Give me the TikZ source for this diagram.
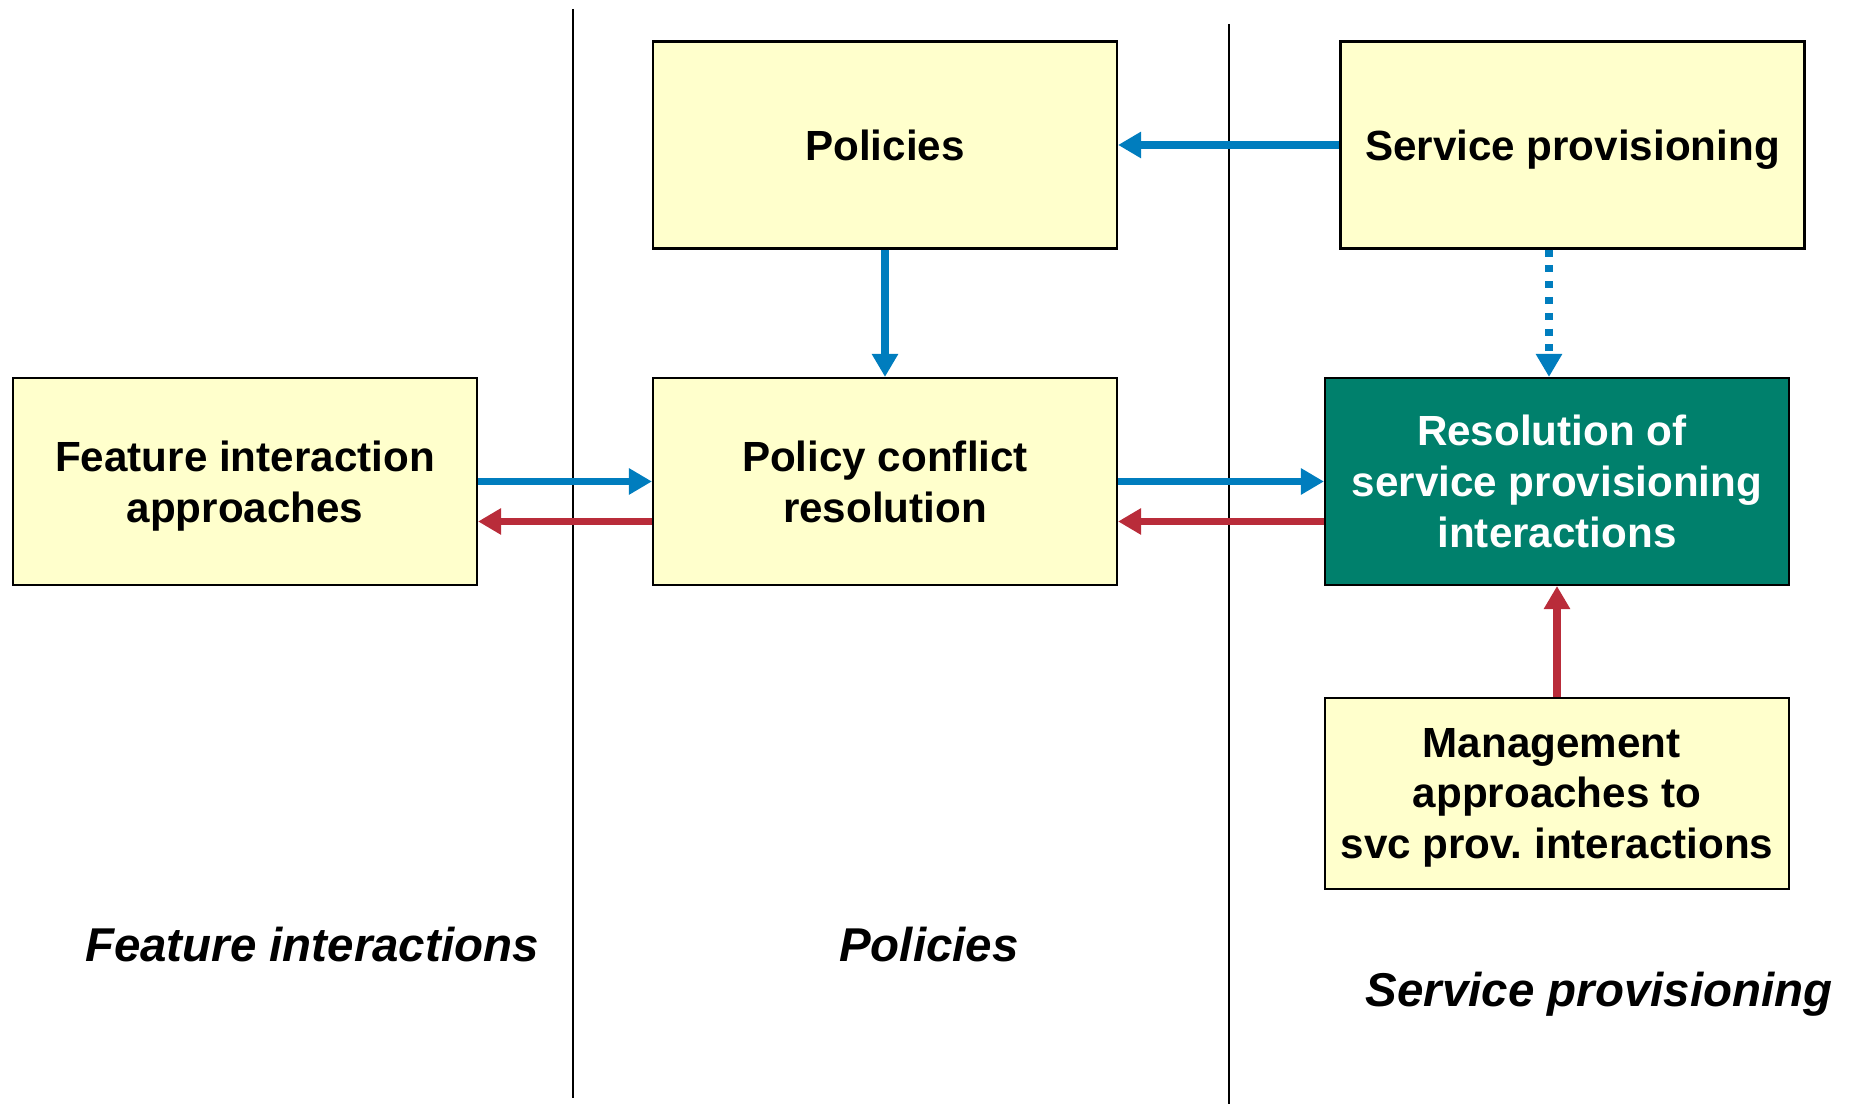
\documentclass[tikz,border=0pt]{standalone}
\usepackage{fontspec}
\setmainfont{Liberation Sans}
\usepackage{tikz}
\usetikzlibrary{arrows.meta}

\definecolor{boxyellow}{RGB}{255,255,204}
\definecolor{arrblue}{RGB}{0,125,190}
\definecolor{arrred}{RGB}{185,44,58}
\definecolor{resgreen}{RGB}{0,128,108}

\begin{document}
\begin{tikzpicture}[x=1cm, y=-1cm,
        box/.style={rectangle, draw, line width=0.6pt, fill=boxyellow, align=center,
            minimum width=4.64cm, minimum height=2.07cm, inner sep=2pt, text depth=0pt,
            font=\fontsize{12}{14.5}\selectfont\bfseries},
        bluearr/.style={draw=arrblue, line width=2.1pt, -{Triangle[length=0.23cm, width=0.25cm]}},
        redarr/.style={draw=arrred, line width=2.1pt, -{Triangle[length=0.23cm, width=0.25cm]}},
        area/.style={font=\fontsize{13.5}{16}\selectfont\bfseries\itshape}]
        \useasboundingbox (0,0) rectangle (18.52,11.04);

        % separators
        \coordinate (l1top) at (5.73, 0.09);
        \coordinate (l1bot) at (5.73, 10.98);
        \coordinate (l2top) at (12.29, 0.24);
        \coordinate (l2bot) at (12.29, 11.04);
        \draw[line width=0.6pt] (l1top) -- (l1bot);
        \draw[line width=0.6pt] (l2top) -- (l2bot);

        \node[box] (pol) at (8.85, 1.45) {Policies};
        \node[box] (sp) at (15.725, 1.45) {Service provisioning};
        \node[box] (fia) at (2.45, 4.815) {Feature interaction\\approaches};
        \node[box] (pcr) at (8.85, 4.815) {Policy conflict\\resolution};
        \node[box, fill=resgreen, text=white] (res) at (15.57, 4.815) {Resolution of\hspace*{0.25em}\\service provisioning\\interactions};
        \node[box, minimum height=1.91cm] (mgmt) at (15.57, 7.935) {Management\hspace*{0.25em}\\approaches to\hspace*{0.25em}\\svc prov.\ interactions};

        \draw[bluearr] (sp) -- (pol);
        \draw[bluearr] (pol) -- (pcr);
        \draw[bluearr, dash pattern=on 2pt off 2.5pt] ([xshift=-0.08cm]res.north |- sp.south) -- ([xshift=-0.08cm]res.north);
        \draw[bluearr] (fia) -- (pcr);
        \draw[redarr] ([yshift=-0.4cm]pcr.west) -- ([yshift=-0.4cm]fia.east);
        \draw[bluearr] (pcr) -- (res);
        \draw[redarr] ([yshift=-0.4cm]res.west) -- ([yshift=-0.4cm]pcr.east);
        \draw[redarr] (mgmt) -- (res);

        \node[area] (fiLabel) at (3.12, 9.45) {Feature interactions};
        \node[area] (polLabel) at (9.29, 9.45) {Policies};
        \node[area] (spLabel) at (15.99, 9.94) {Service provisioning};
    \end{tikzpicture}
\end{document}
